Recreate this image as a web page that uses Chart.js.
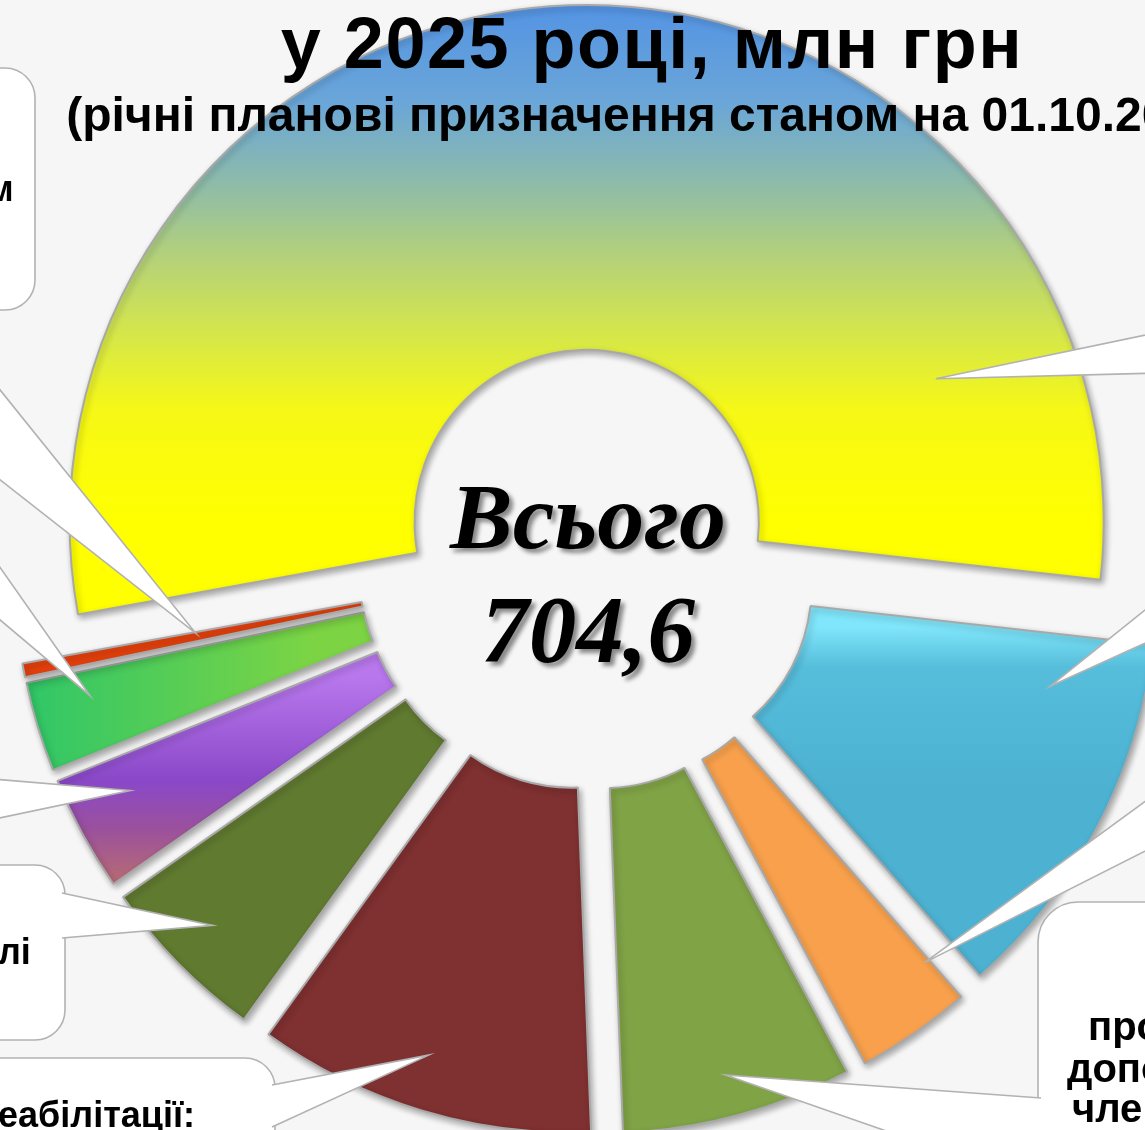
<!DOCTYPE html>
<html lang="uk">
<head>
<meta charset="utf-8">
<script src="https://cdn.jsdelivr.net/npm/chart.js@4.4.1/dist/chart.umd.min.js"></script>
<style>
  html, body { margin: 0; padding: 0; width: 1145px; height: 1130px; overflow: hidden; background: #f7f6f6; }
  #wrap { position: relative; width: 1145px; height: 1130px; overflow: hidden; }
  #chart { position: absolute; left: 0; top: 0; }
  .t { position: absolute; font-family: "Liberation Sans", Arial, sans-serif; font-weight: bold; color: #000; line-height: 1; white-space: nowrap; }
  .c { transform: translateX(-50%); }
  .total { position: absolute; font-family: "Liberation Serif", "Times New Roman", serif; font-weight: bold; font-style: italic; color: #000; line-height: 1; white-space: nowrap; transform: translateX(-50%); text-shadow: 4px 4px 4px rgba(0,0,0,0.45); }
</style>
</head>
<body>
<div id="wrap">
  <canvas id="chart" width="1145" height="1130"></canvas>

  <div class="t c" style="left:652px; top:7px; font-size:72px; letter-spacing:1.5px;">у 2025 році, млн грн</div>
  <div class="t c" style="left:652px; top:91px; font-size:48px;">(річні планові призначення станом на 01.10.2025)</div>

  <div class="total" id="totalWord" style="left:588px; top:469px; font-size:94px;">Всього</div>
  <div class="total" id="totalValue" style="left:588px; top:583px; font-size:95px;"></div>

  <div class="t" style="left:-13px; top:171px; font-size:36px;">м</div>
  <div class="t" style="left:-2px; top:934px; font-size:36px;">лі</div>
  <div class="t" style="left:-24px; top:1097px; font-size:36px;">реабілітації:</div>
  <div class="t" style="left:1088px; top:1006px; font-size:40px;">про</div>
  <div class="t" style="left:1067px; top:1048px; font-size:40px;">допо</div>
  <div class="t" style="left:1072px; top:1088px; font-size:40px;">член</div>
</div>

<script>
// values, млн грн, clockwise from the big segment
const categories = ['Напрям 1', 'Напрям 2', 'Напрям 3', 'Напрям 4', 'Напрям 5',
                    'Напрям 6', 'Напрям 7', 'Напрям 8', 'Напрям 9'];
const values = [385.0, 83.0, 25.5, 50.8, 74.5, 37.5, 25.5, 19.8, 3.0];

// how far each slice is pulled out of the ring
const explodeBy = i => (i === 0 ? 38 : 58);

const total = values.reduce((a, b) => a + b, 0);
document.getElementById('totalValue').textContent = total.toFixed(1).replace('.', ',');

function vGrad(ctx, y0, y1, stops) {
  const g = ctx.createLinearGradient(0, y0, 0, y1);
  stops.forEach(s => g.addColorStop(s[0], s[1]));
  return g;
}
function hGrad(ctx, x0, x1, stops) {
  const g = ctx.createLinearGradient(x0, 0, x1, 0);
  stops.forEach(s => g.addColorStop(s[0], s[1]));
  return g;
}

function sliceColor(c) {
  const ctx = c.chart.ctx;
  switch (c.dataIndex) {
    case 0: return vGrad(ctx, 0, 560, [[0, '#4a8be8'], [0.25, '#6aa6d8'], [0.4, '#8fbca8'],
                                        [0.52, '#b2d07c'], [0.66, '#d4e64c'], [0.8, '#f6f816'], [1, '#ffff00']]);
    case 1: return vGrad(ctx, 600, 760, [[0, '#80e6fb'], [0.25, '#56bddb'], [1, '#4db2d2']]);
    case 2: return '#f8a04c';
    case 3: return '#80a346';
    case 4: return '#7f3030';
    case 5: return '#607a30';
    case 6: return vGrad(ctx, 650, 880, [[0, '#b877ec'], [0.45, '#8a48c8'], [0.65, '#9a509e'], [1, '#c47860']]);
    case 7: return hGrad(ctx, 30, 370, [[0, '#22c46e'], [1, '#7cd444']]);
    default: return '#e4400c';
  }
}

// callouts: which slice, where the tip sits inside it, base points, optional box
const callouts = [
  { index: 0, along: 0.854, depth: 0.595, base: [[1160, 332], [1160, 373]] },
  { index: 1, along: 0.17, depth: 0.726, base: [[1165, 594], [1165, 634]] },
  { index: 2, along: 0.05, depth: 0.855, base: [[1165, 787], [1165, 841]] },
  { index: 3, along: 0.51, depth: 0.878, base: [[1041, 1098], [1041, 1185]], box: [1038, 902, 200, 400, 40] },
  { index: 4, along: 0.53, depth: 0.841, base: [[272, 1085], [272, 1127]], box: [-60, 1058, 335, 300, 30] },
  { index: 5, along: 0.52, depth: 0.852, base: [[62, 893], [62, 938]], box: [-60, 865, 125, 175, 30] },
  { index: 6, along: 0.65, depth: 0.819, base: [[-20, 778], [-20, 822]] },
  { index: 7, along: 0.68, depth: 0.829, base: [[-20, 539], [-20, 603]] },
  { index: 8, along: 0.90, depth: 0.49, base: [[-20, 365], [-20, 464]] },
  { index: -1, box: [-60, 68, 95, 242, 30] }
];

function roundRect(ctx, x, y, w, h, r) {
  ctx.beginPath();
  ctx.moveTo(x + r, y);
  ctx.lineTo(x + w - r, y);
  ctx.arcTo(x + w, y, x + w, y + r, r);
  ctx.lineTo(x + w, y + h - r);
  ctx.arcTo(x + w, y + h, x + w - r, y + h, r);
  ctx.lineTo(x + r, y + h);
  ctx.arcTo(x, y + h, x, y + h - r, r);
  ctx.lineTo(x, y + r);
  ctx.arcTo(x, y, x + r, y, r);
  ctx.closePath();
}

const explodePlugin = {
  id: 'explode',
  beforeDatasetDraw(chart, args) {
    const ctx = chart.ctx;
    args.meta.data.forEach((arc, i) => {
      const mid = (arc.startAngle + arc.endAngle) / 2;
      const d = explodeBy(i);
      ctx.save();
      ctx.shadowColor = 'rgba(0,0,0,0.32)';
      ctx.shadowBlur = 6;
      ctx.shadowOffsetX = 2;
      ctx.shadowOffsetY = 3;
      ctx.translate(Math.cos(mid) * d, Math.sin(mid) * d);
      arc.draw(ctx);
      ctx.restore();
    });
    return false;
  }
};

const calloutPlugin = {
  id: 'callouts',
  afterDatasetsDraw(chart) {
    const ctx = chart.ctx;
    const arcs = chart.getDatasetMeta(0).data;
    ctx.save();
    ctx.lineWidth = 1.6;
    ctx.strokeStyle = '#b2b2b2';
    ctx.fillStyle = '#ffffff';
    callouts.forEach(c => {
      if (c.box) {
        roundRect(ctx, c.box[0], c.box[1], c.box[2], c.box[3], c.box[4]);
        ctx.fill();
        ctx.stroke();
      }
      if (c.index < 0) return;
      const a = arcs[c.index];
      const mid = (a.startAngle + a.endAngle) / 2;
      const d = explodeBy(c.index);
      const th = a.startAngle + c.along * (a.endAngle - a.startAngle);
      const rho = a.innerRadius + c.depth * (a.outerRadius - a.innerRadius);
      const tx = a.x + Math.cos(mid) * d + Math.cos(th) * rho;
      const ty = a.y + Math.sin(mid) * d + Math.sin(th) * rho;
      const [b1, b2] = c.base;
      ctx.beginPath();
      ctx.moveTo(b1[0], b1[1]);
      ctx.lineTo(tx, ty);
      ctx.lineTo(b2[0], b2[1]);
      ctx.closePath();
      ctx.fill();
      ctx.beginPath();
      ctx.moveTo(b1[0], b1[1]);
      ctx.lineTo(tx, ty);
      ctx.lineTo(b2[0], b2[1]);
      ctx.stroke();
    });
    ctx.restore();
  }
};

new Chart(document.getElementById('chart'), {
  type: 'doughnut',
  data: {
    labels: categories,
    datasets: [{
      data: values,
      backgroundColor: sliceColor,
      borderColor: '#a8a8a8',
      borderWidth: 2,
      clip: false
    }]
  },
  options: {
    responsive: false,
    animation: false,
    events: [],
    rotation: 259.7,
    cutout: '33.3%',
    layout: { padding: { left: 70, top: 42, right: 39, bottom: 52 } },
    plugins: { legend: { display: false }, tooltip: { enabled: false } }
  },
  plugins: [explodePlugin, calloutPlugin]
});
</script>
</body>
</html>
